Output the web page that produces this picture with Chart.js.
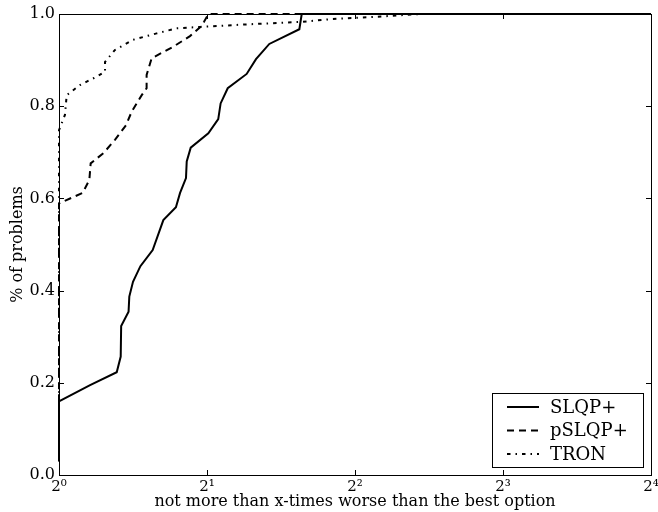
<!DOCTYPE html>
<html>
<head>
<meta charset="utf-8">
<script src="https://cdn.jsdelivr.net/npm/chart.js@4.4.1/dist/chart.umd.min.js"></script>
<style>
  html, body { margin: 0; padding: 0; background: #fff; }
  #wrap { width: 658px; height: 512px; }
</style>
</head>
<body>
<div id="wrap"><canvas id="profileChart"></canvas></div>
<script>
// x = log2 of the ratio to the best solver, y = fraction of problems
var slqpX = [0, 0, 0.21, 0.39, 0.417, 0.42, 0.47, 0.475, 0.50, 0.55, 0.633, 0.705, 0.79, 0.818, 0.858, 0.863, 0.89, 1.009, 1.076, 1.092, 1.14, 1.268, 1.331, 1.421, 1.624, 1.64, 4];
var slqpY = [0.03, 0.16, 0.195, 0.223, 0.257, 0.323, 0.354, 0.387, 0.419, 0.453, 0.488, 0.553, 0.581, 0.612, 0.644, 0.680, 0.710, 0.741, 0.772, 0.806, 0.839, 0.870, 0.902, 0.935, 0.967, 1.0, 1.0];

var pslqpX = [0, 0, 0.16, 0.205, 0.214, 0.30, 0.378, 0.453, 0.491, 0.559, 0.592, 0.592, 0.626, 0.772, 0.885, 0.953, 0.98, 1.009, 4];
var pslqpY = [0.03, 0.589, 0.612, 0.640, 0.676, 0.698, 0.727, 0.759, 0.788, 0.824, 0.839, 0.868, 0.904, 0.929, 0.952, 0.971, 0.983, 1.0, 1.0];

var tronX = [0, 0, 0.04, 0.052, 0.142, 0.254, 0.311, 0.311, 0.378, 0.50, 0.66, 0.795, 0.953, 1.3, 1.64, 1.84, 2.2, 2.44, 4];
var tronY = [0.03, 0.748, 0.781, 0.824, 0.846, 0.864, 0.875, 0.896, 0.922, 0.944, 0.958, 0.969, 0.972, 0.978, 0.983, 0.989, 0.995, 1.0, 1.0];

var seriesNames = ['SLQP+', 'pSLQP+', 'TRON'];
var seriesDash = [[], [7, 5], [3.5, 5, 1.5, 5]];
var xTicks = [0, 1, 2, 3, 4];
var yTicks = [0, 0.2, 0.4, 0.6, 0.8, 1.0];
var supers = ['\u2070', '\u00b9', '\u00b2', '\u00b3', '\u2074'];

var serif = "'DejaVu Serif', serif";

function toPoints(xs, ys) {
  var pts = [];
  for (var i = 0; i < xs.length; i++) {
    pts.push({ x: xs[i], y: ys[i] });
  }
  return pts;
}

// box round the plot and inward ticks on all four sides
var frameTicks = {
  id: 'frameTicks',
  afterDraw: function(chart) {
    var ctx = chart.ctx;
    var a = chart.chartArea;
    var xs = chart.scales.x, ys = chart.scales.y;
    var len = 5;
    ctx.save();
    ctx.strokeStyle = '#000';
    ctx.lineWidth = 1;
    ctx.beginPath();
    for (var i = 0; i < xTicks.length; i++) {
      var px = Math.round(xs.getPixelForValue(xTicks[i])) + 0.5;
      ctx.moveTo(px, a.bottom); ctx.lineTo(px, a.bottom - len);
      ctx.moveTo(px, a.top); ctx.lineTo(px, a.top + len);
    }
    for (var j = 0; j < yTicks.length; j++) {
      var py = Math.round(ys.getPixelForValue(yTicks[j])) + 0.5;
      ctx.moveTo(a.left, py); ctx.lineTo(a.left + len, py);
      ctx.moveTo(a.right, py); ctx.lineTo(a.right - len, py);
    }
    ctx.stroke();
    ctx.strokeRect(Math.round(a.left) + 0.5, Math.round(a.top) + 0.5,
                   Math.round(a.right - a.left), Math.round(a.bottom - a.top));
    ctx.restore();
  }
};

// legend box in the lower right corner of the plot
var boxLegend = {
  id: 'boxLegend',
  afterDraw: function(chart) {
    var ctx = chart.ctx;
    var a = chart.chartArea;
    var w = 151, h = 74, rowH = 23.5;
    var bx = a.right - 8 - w, by = a.bottom - 8 - h;
    ctx.save();
    ctx.fillStyle = '#fff';
    ctx.fillRect(bx, by, w, h);
    ctx.strokeStyle = '#000';
    ctx.lineWidth = 1;
    ctx.strokeRect(Math.round(bx) + 0.5, Math.round(by) + 0.5, w, h);
    ctx.font = '18px ' + serif;
    ctx.textBaseline = 'middle';
    ctx.fillStyle = '#000';
    for (var i = 0; i < seriesNames.length; i++) {
      var cy = by + 14 + i * rowH;
      ctx.beginPath();
      ctx.setLineDash(seriesDash[i]);
      ctx.lineWidth = 2;
      ctx.moveTo(bx + 15, cy);
      ctx.lineTo(bx + 47, cy);
      ctx.stroke();
      ctx.setLineDash([]);
      ctx.fillText(seriesNames[i], bx + 58, cy + 1);
    }
    ctx.restore();
  }
};

function makeSet(i, xs, ys) {
  return {
    label: seriesNames[i],
    data: toPoints(xs, ys),
    borderColor: '#000',
    borderWidth: 2,
    borderDash: seriesDash[i],
    pointRadius: 0,
    fill: false,
    tension: 0,
    clip: 4
  };
}

new Chart(document.getElementById('profileChart'), {
  type: 'line',
  data: {
    datasets: [
      makeSet(0, slqpX, slqpY),
      makeSet(1, pslqpX, pslqpY),
      makeSet(2, tronX, tronY)
    ]
  },
  options: {
    responsive: true,
    maintainAspectRatio: false,
    animation: false,
    events: [],
    layout: { padding: { top: 14, right: 7, left: 0, bottom: 0 } },
    plugins: {
      legend: { display: false },
      tooltip: { enabled: false }
    },
    scales: {
      x: {
        type: 'linear',
        min: 0,
        max: 4,
        afterFit: function(scale) {
          scale.height = 37;
          scale.paddingLeft = 0;
          scale.paddingRight = 0;
        },
        afterBuildTicks: function(scale) {
          scale.ticks = xTicks.map(function(v) { return { value: v }; });
        },
        grid: { display: false, drawTicks: false },
        border: { display: false },
        ticks: {
          padding: 3,
          color: '#000',
          font: { family: serif, size: 15 },
          maxRotation: 0,
          callback: function(v) { return '2' + supers[v]; }
        },
        title: {
          display: true,
          text: 'not more than x-times worse than the best option',
          color: '#000',
          font: { family: serif, size: 16 },
          padding: { top: 0, bottom: 1 }
        }
      },
      y: {
        type: 'linear',
        min: 0,
        max: 1,
        afterFit: function(scale) {
          scale.width = 59;
          scale.paddingTop = 0;
          scale.paddingBottom = 0;
        },
        afterBuildTicks: function(scale) {
          scale.ticks = yTicks.map(function(v) { return { value: v }; });
        },
        grid: { display: false, drawTicks: false },
        border: { display: false },
        ticks: {
          padding: 4,
          color: '#000',
          font: { family: serif, size: 16 },
          callback: function(v) { return v.toFixed(1); }
        },
        title: {
          display: true,
          text: '% of problems',
          color: '#000',
          font: { family: serif, size: 16 },
          padding: { top: 8, bottom: 0 }
        }
      }
    }
  },
  plugins: [frameTicks, boxLegend]
});
</script>
</body>
</html>
